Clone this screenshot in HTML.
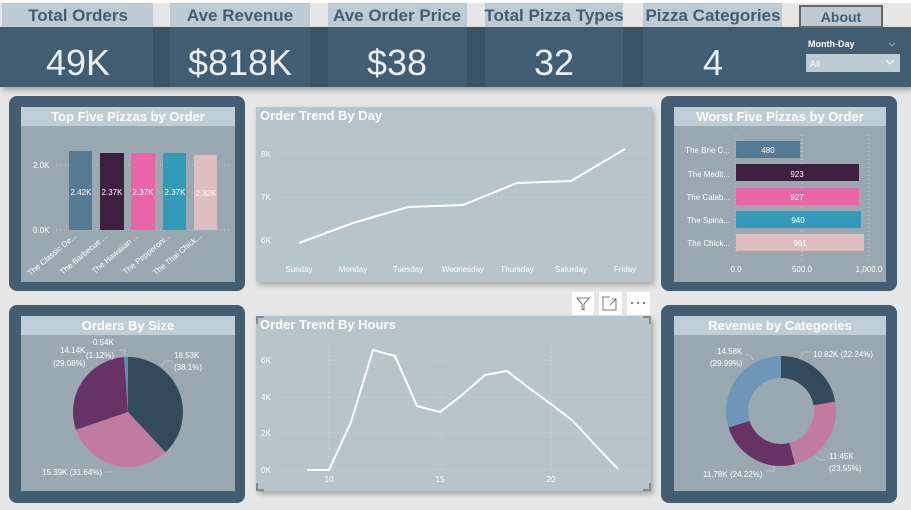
<!DOCTYPE html>
<html><head><meta charset="utf-8"><style>
body{margin:0;width:911px;height:510px;overflow:hidden;background:#e6e6e6;font-family:"Liberation Sans",sans-serif}
svg{display:block}
</style></head><body>
<svg width="911" height="510" viewBox="0 0 911 510" font-family="Liberation Sans, sans-serif">
<defs><filter id="sh" x="-5%" y="-5%" width="115%" height="120%"><feDropShadow dx="2" dy="3" stdDeviation="3" flood-color="#000" flood-opacity="0.3"/></filter></defs>
<rect width="911" height="510" fill="#e6e6e6"/>
<rect x="0" y="0" width="911" height="3" fill="#fff"/>
<!-- KPI strip -->
<rect x="0" y="27" width="911" height="60" fill="#435d72" filter="url(#sh)"/>
<rect x="153" y="27" width="17" height="60" fill="#3a5265"/>
<rect x="310" y="27" width="18" height="60" fill="#3a5265"/>
<rect x="467" y="27" width="18" height="60" fill="#3a5265"/>
<rect x="623" y="27" width="20" height="60" fill="#3a5265"/>
<g fill="#bccbd4">
<rect x="2" y="3" width="151" height="24"/><rect x="170" y="3" width="140" height="24"/><rect x="328" y="3" width="139" height="24"/><rect x="485" y="3" width="138" height="24"/><rect x="643" y="3" width="139" height="24"/>
</g>
<g fill="#435d72" font-size="17" font-weight="bold" text-anchor="middle">
<text x="78" y="21">Total Orders</text><text x="240" y="21">Ave Revenue</text><text x="397" y="21">Ave Order Price</text><text x="554" y="21">Total Pizza Types</text><text x="713" y="21">Pizza Categories</text>
</g>
<g fill="#e8eef2" font-size="36" text-anchor="middle">
<text x="78" y="75">49K</text><text x="240" y="75">$818K</text><text x="397" y="75">$38</text><text x="554" y="75">32</text><text x="713" y="75">4</text>
</g>
<rect x="800" y="6" width="82" height="21" fill="#bccbd4" stroke="#666" stroke-width="2"/>
<text x="841" y="22" fill="#435d72" font-size="14" font-weight="bold" text-anchor="middle">About</text>
<text x="808" y="47" fill="#fff" font-size="9" font-weight="bold">Month-Day</text>
<path d="M889 43l3 3 3-3" stroke="#8aa" fill="none"/>
<rect x="806" y="54" width="94" height="18" fill="#bccbd4"/>
<text x="810" y="67" fill="#fff" font-size="9">All</text>
<path d="M886 60l4 4 4-4" stroke="#fff" fill="none"/>
<!-- panels -->
<g fill="#435d72">
<rect x="9" y="96" width="236" height="195" rx="8"/><rect x="661" y="96" width="236" height="195" rx="8"/>
<rect x="9" y="305" width="236" height="198" rx="8"/><rect x="661" y="305" width="236" height="198" rx="8"/>
</g>
<g fill="#9aa8b1">
<rect x="21" y="107" width="214" height="175"/><rect x="674" y="107" width="212" height="175"/>
<rect x="21" y="316" width="214" height="175"/><rect x="674" y="316" width="212" height="175"/>
</g>
<g fill="#bfcdd6">
<rect x="21" y="107" width="214" height="19"/><rect x="674" y="107" width="212" height="19"/>
<rect x="21" y="316" width="214" height="19"/><rect x="674" y="316" width="212" height="19"/>
</g>
<g fill="#fff" font-size="13" font-weight="bold" text-anchor="middle">
<text x="128" y="121">Top Five Pizzas by Order</text><text x="780" y="121">Worst Five Pizzas by Order</text>
<text x="128" y="330">Orders By Size</text><text x="780" y="330">Revenue by Categories</text>
</g>
<rect x="256" y="107" width="396" height="175" fill="#b7c4cc" filter="url(#sh)"/>
<rect x="256" y="316" width="395" height="175" fill="#b7c4cc" filter="url(#sh)"/>
<text x="260" y="120" fill="#fff" font-size="13" font-weight="bold">Order Trend By Day</text>
<text x="260" y="329" fill="#fff" font-size="13" font-weight="bold">Order Trend By Hours</text>
<!-- top five -->
<g stroke="#c8d0d6" stroke-dasharray="1 3"><line x1="56" y1="165" x2="230" y2="165"/><line x1="56" y1="230" x2="230" y2="230"/></g>
<g fill="#fff" font-size="8"><text x="33" y="168">2.0K</text><text x="33" y="233">0.0K</text></g>
<rect x="69" y="151" width="23" height="79" fill="#557a94"/>
<rect x="100" y="153" width="24" height="77" fill="#3f1f3f"/>
<rect x="131" y="153" width="24" height="77" fill="#ea64a8"/>
<rect x="163" y="153" width="23" height="77" fill="#339bb9"/>
<rect x="194" y="155" width="23" height="75" fill="#dfbebf"/>
<g fill="#fff" font-size="8" text-anchor="middle"><text x="81" y="195">2.42K</text><text x="112" y="195">2.37K</text><text x="143" y="195">2.37K</text><text x="175" y="195">2.37K</text><text x="206" y="196">2.32K</text></g>
<g fill="#fff" font-size="8" text-anchor="end">
<text transform="translate(77,237) rotate(-40)">The Classic De...</text>
<text transform="translate(108,237) rotate(-40)">The Barbecue ...</text>
<text transform="translate(139,237) rotate(-40)">The Hawaiian ...</text>
<text transform="translate(171,237) rotate(-40)">The Pepperoni...</text>
<text transform="translate(202,237) rotate(-40)">The Thai Chick...</text>
</g>
<!-- order by day -->
<g stroke="#d0d8de" stroke-dasharray="1 3"><line x1="277" y1="154" x2="648" y2="154"/><line x1="277" y1="197" x2="648" y2="197"/><line x1="277" y1="240" x2="648" y2="240"/></g>
<g fill="#fff" font-size="8"><text x="261" y="157">8K</text><text x="261" y="200">7K</text><text x="261" y="243">6K</text></g>
<polyline points="299,243 353,223 408,207 463,205 517,183 571,181 625,149" fill="none" stroke="#fff" stroke-width="2"/>
<g fill="#fff" font-size="8" text-anchor="middle"><text x="299" y="272">Sunday</text><text x="353" y="272">Monday</text><text x="408" y="272">Tuesday</text><text x="463" y="272">Wednesday</text><text x="517" y="272">Thursday</text><text x="571" y="272">Saturday</text><text x="625" y="272">Friday</text></g>
<!-- worst five -->
<g stroke="#c8d0d6" stroke-dasharray="1 3"><line x1="736" y1="135" x2="736" y2="262"/><line x1="802" y1="135" x2="802" y2="262"/><line x1="869" y1="135" x2="869" y2="262"/></g>
<rect x="736" y="141" width="64" height="17" fill="#557a94"/>
<rect x="736" y="164" width="123" height="17" fill="#3f1f3f"/>
<rect x="736" y="188" width="123" height="17" fill="#ea64a8"/>
<rect x="736" y="211" width="125" height="17" fill="#339bb9"/>
<rect x="736" y="234" width="128" height="17" fill="#dfbebf"/>
<g fill="#fff" font-size="8" text-anchor="middle"><text x="768" y="153">480</text><text x="797" y="177">923</text><text x="797" y="200">927</text><text x="798" y="223">940</text><text x="800" y="246">961</text></g>
<g fill="#fff" font-size="8" text-anchor="end"><text x="730" y="153">The Brie C...</text><text x="730" y="177">The Medit...</text><text x="730" y="200">The Calab...</text><text x="730" y="223">The Spina...</text><text x="730" y="246">The Chick...</text></g>
<g fill="#fff" font-size="8" text-anchor="middle"><text x="736" y="272">0.0</text><text x="802" y="272">500.0</text><text x="869" y="272">1,000.0</text></g>
<!-- pie -->
<path d="M128,412 L128,357 A55,55 0 0 1 165.4,452.3Z" fill="#334a5c"/>
<path d="M128,412 L165.4,452.3 A55,55 0 0 1 76,429.8Z" fill="#c27ba0"/>
<path d="M128,412 L76,429.8 A55,55 0 0 1 124.1,357.1Z" fill="#673266"/>
<path d="M128,412 L124.1,357.1 A55,55 0 0 1 128,357Z" fill="#5f8ab0"/>
<g stroke="#ccc" fill="none" stroke-width="0.8"><path d="M161,366 l4,-5 h8"/><path d="M113,472 h-8"/><path d="M119,350 h6 v5"/></g>
<g fill="#fff" font-size="8">
<text x="174" y="358">18.53K</text><text x="174" y="370">(38.1%)</text>
<text x="93" y="345">0.54K</text><text x="86" y="358">(1.12%)</text>
<text x="60" y="353">14.14K</text><text x="53" y="366">(29.08%)</text>
<text x="42" y="475">15.39K (31.64%)</text>
</g>
<!-- hours -->
<g stroke="#d0d8de" stroke-dasharray="1 3"><line x1="277" y1="360" x2="648" y2="360"/><line x1="277" y1="397" x2="648" y2="397"/><line x1="277" y1="433" x2="648" y2="433"/><line x1="277" y1="470" x2="648" y2="470"/>
<line x1="329" y1="340" x2="329" y2="470"/><line x1="440" y1="340" x2="440" y2="470"/><line x1="551" y1="340" x2="551" y2="470"/></g>
<g fill="#fff" font-size="8"><text x="261" y="363">6K</text><text x="261" y="400">4K</text><text x="261" y="436">2K</text><text x="261" y="473">0K</text></g>
<polyline points="307,470 329,470 351,422 373,350 395,356 417,406 440,412 462,395 485,375 507,371 529,388 551,404 573,421 595,445 618,469" fill="none" stroke="#fff" stroke-width="2"/>
<g fill="#fff" font-size="8" text-anchor="middle"><text x="329" y="482">10</text><text x="440" y="482">15</text><text x="551" y="482">20</text></g>
<g stroke="#888" stroke-width="2" fill="none"><path d="M257,324v-7h7"/><path d="M643,317h7v7"/><path d="M257,483v7h7"/><path d="M643,490h7v-7"/></g>
<g fill="#fff"><rect x="572" y="292" width="22" height="23"/><rect x="599" y="292" width="23" height="23"/><rect x="627" y="292" width="23" height="23"/></g>
<path d="M577,298h12l-5,6v6l-2,-1v-5z" fill="none" stroke="#555" stroke-width="0.8"/>
<path d="M610,297h-7v13h13v-7 M610,305l6,-6 M612,299h4v4" fill="none" stroke="#555" stroke-width="0.8"/>
<g fill="#555"><circle cx="632" cy="303" r="1"/><circle cx="638" cy="303" r="1"/><circle cx="644" cy="303" r="1"/></g>
<!-- donut -->
<g transform="rotate(-90 781 411)" fill="none" stroke-width="22">
<circle cx="781" cy="411" r="44" stroke="#334a5c" stroke-dasharray="61.5 276.5"/>
<circle cx="781" cy="411" r="44" stroke="#c27ba0" stroke-dasharray="0 61.5 65.1 276.5"/>
<circle cx="781" cy="411" r="44" stroke="#673266" stroke-dasharray="0 126.6 67 276.5"/>
<circle cx="781" cy="411" r="44" stroke="#6e96b8" stroke-dasharray="0 193.6 82.9 276.5"/>
</g>
<g stroke="#ccc" fill="none" stroke-width="0.8"><path d="M800,358l3,-6h8"/><path d="M753,360l-3,-5h-5"/><path d="M815,456l4,4h6"/><path d="M774,466v5h-8"/></g>
<g fill="#fff" font-size="8">
<text x="813" y="357">10.82K (22.24%)</text>
<text x="717" y="354">14.58K</text><text x="710" y="366">(29.99%)</text>
<text x="829" y="459">11.45K</text><text x="829" y="471">(23.55%)</text>
<text x="703" y="477">11.78K (24.22%)</text>
</g>
</svg>
</body></html>
